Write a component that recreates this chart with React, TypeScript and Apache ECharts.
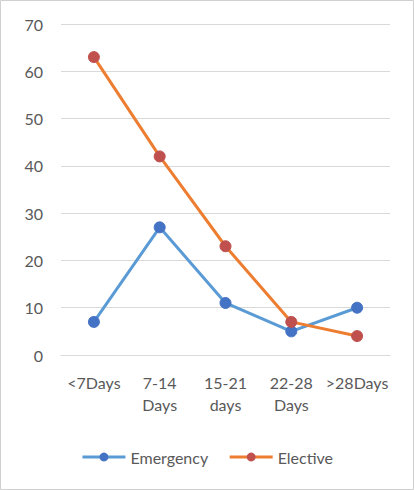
import React, { useEffect, useRef } from "react";
import * as echarts from "echarts";

const categories = ["<7Days", "7-14\nDays", "15-21\ndays", "22-28\nDays", ">28Days"];
const emergency = [7, 27, 11, 5, 10];
const elective = [63, 42, 23, 7, 4];
const yTicks = { min: 0, max: 70, interval: 10 };

export default function App() {
  const ref = useRef<HTMLDivElement>(null);
  useEffect(() => {
    if (!ref.current) return;
    const chart = echarts.init(ref.current, null, { renderer: "svg" });
    const font = "Lato";
    chart.setOption({
      animation: false,
      backgroundColor: "#ffffff",
      textStyle: { fontFamily: font },
      graphic: [
        {
          type: "rect",
          shape: { x: 0.5, y: 0.5, width: 413, height: 489 },
          style: { fill: "none", stroke: "#d0d0d0", lineWidth: 1 },
          silent: true,
        },
      ],
      grid: { left: 61, right: 24, top: 24, bottom: 135, containLabel: false },
      legend: {
        bottom: 20,
        left: "center",
        itemWidth: 43,
        itemHeight: 11,
        itemGap: 20,
        lineStyle: { width: 3 },
        textStyle: { color: "#595959", fontSize: 16, fontFamily: font },
        data: ["Emergency", "Elective"],
      },
      xAxis: {
        type: "category",
        data: categories,
        boundaryGap: true,
        axisLine: { show: true, lineStyle: { color: "#d9d9d9", width: 1 } },
        axisTick: { show: false },
        axisLabel: { color: "#595959", fontSize: 16, lineHeight: 22, margin: 16, interval: 0, fontFamily: font },
        splitLine: { show: false },
      },
      yAxis: {
        type: "value",
        min: yTicks.min,
        max: yTicks.max,
        interval: yTicks.interval,
        axisLine: { show: false },
        axisTick: { show: false },
        axisLabel: { color: "#595959", fontSize: 16, margin: 18, fontFamily: font },
        splitLine: { lineStyle: { color: "#d9d9d9", width: 1 } },
      },
      series: [
        {
          name: "Emergency",
          type: "line",
          data: emergency,
          symbol: "circle",
          symbolSize: 11,
          lineStyle: { color: "#5B9BD5", width: 3 },
          itemStyle: { color: "#4472C4", borderColor: "#4472C4" },
          color: "#5B9BD5",
        },
        {
          name: "Elective",
          type: "line",
          data: elective,
          symbol: "circle",
          symbolSize: 11,
          lineStyle: { color: "#ED7D31", width: 3 },
          itemStyle: { color: "#C0504D", borderColor: "#C0504D" },
          color: "#ED7D31",
        },
      ],
    });
    return () => chart.dispose();
  }, []);
  return (
    <div
      ref={ref}
      style={{ position: "fixed", left: 0, top: 0, width: 414, height: 490 }}
    />
  );
}
